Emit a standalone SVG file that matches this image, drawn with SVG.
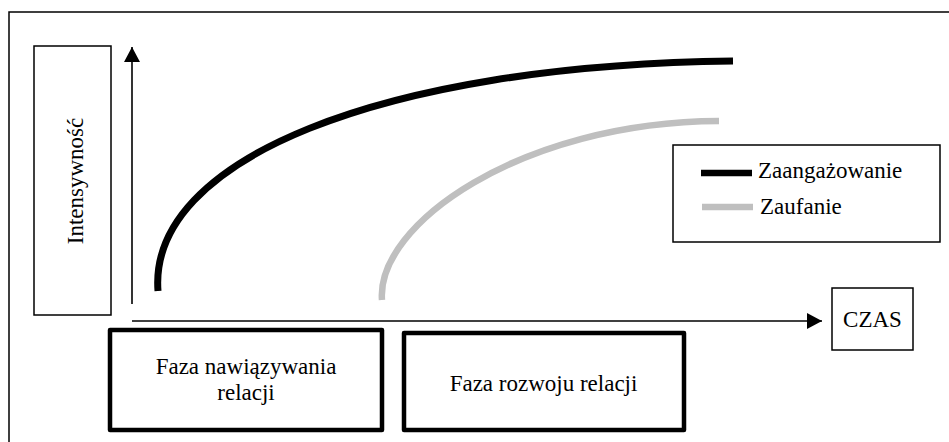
<svg xmlns="http://www.w3.org/2000/svg" width="949" height="442" viewBox="0 0 949 442">
<style>
  .t { font-family: 'Liberation Serif', 'Times New Roman', Times, 'DejaVu Serif', serif; font-size: 23px; fill: #000; }
  .thin { fill: #fff; stroke: #000; stroke-width: 1.5; }
  .phase { fill: #fff; stroke: #000; stroke-width: 4.5; stroke-linejoin: round; }
  .axis { fill: none; stroke: #000; stroke-width: 1.6; }
</style>
<defs>
  <marker id="arrowL" viewBox="0 0 15 16" refX="15" refY="8" markerWidth="15" markerHeight="16" markerUnits="userSpaceOnUse" orient="auto">
    <path d="M0,0 L15,8 L0,16 Z" fill="#000"/>
  </marker>
</defs>
<rect x="0" y="0" width="949" height="442" fill="#fff"/>
<rect id="frame" x="9" y="12" width="980" height="500" fill="none" stroke="#000" stroke-width="1.5"/>

<g id="connectors">
  <line class="axis" x1="132" y1="304" x2="132" y2="47" marker-end="url(#arrowL)"/>
  <line class="axis" x1="132" y1="321" x2="822" y2="321" marker-end="url(#arrowL)"/>
</g>

<g id="curves">
  <path d="M158,291 C148,160 380,65 733,61" fill="none" stroke="#000" stroke-width="7"/>
  <path d="M382,300 C376,225 520,122 719,121" fill="none" stroke="#bfbfbf" stroke-width="6.5"/>
</g>

<g id="intensywnosc">
  <rect class="thin" x="34" y="46" width="77" height="269"/>
  <text class="t" font-family="Liberation Serif, serif" transform="translate(83,181) rotate(-90)" text-anchor="middle">Intensywność</text>
</g>

<g id="czas">
  <rect class="thin" x="832" y="288" width="81" height="62"/>
  <text class="t" font-family="Liberation Serif, serif" x="872.5" y="327" text-anchor="middle">CZAS</text>
</g>

<g id="faza-nawiazywania">
  <rect class="phase" x="110" y="330" width="272" height="100"/>
  <text class="t" font-family="Liberation Serif, serif" x="246" y="374" text-anchor="middle">Faza nawiązywania</text>
  <text class="t" font-family="Liberation Serif, serif" x="246" y="400" text-anchor="middle">relacji</text>
</g>

<g id="faza-rozwoju">
  <rect class="phase" x="404" y="333" width="280" height="97"/>
  <text class="t" font-family="Liberation Serif, serif" x="543.5" y="391" text-anchor="middle">Faza rozwoju relacji</text>
</g>

<g id="legend">
  <rect class="thin" x="673" y="145" width="267" height="97"/>
  <line x1="701" y1="173" x2="752" y2="173" stroke="#000" stroke-width="6.5"/>
  <text class="t" font-family="Liberation Serif, serif" x="758" y="178">Zaangażowanie</text>
  <line x1="702" y1="207" x2="753" y2="207" stroke="#bfbfbf" stroke-width="6.5"/>
  <text class="t" font-family="Liberation Serif, serif" x="760" y="214">Zaufanie</text>
</g>
</svg>
